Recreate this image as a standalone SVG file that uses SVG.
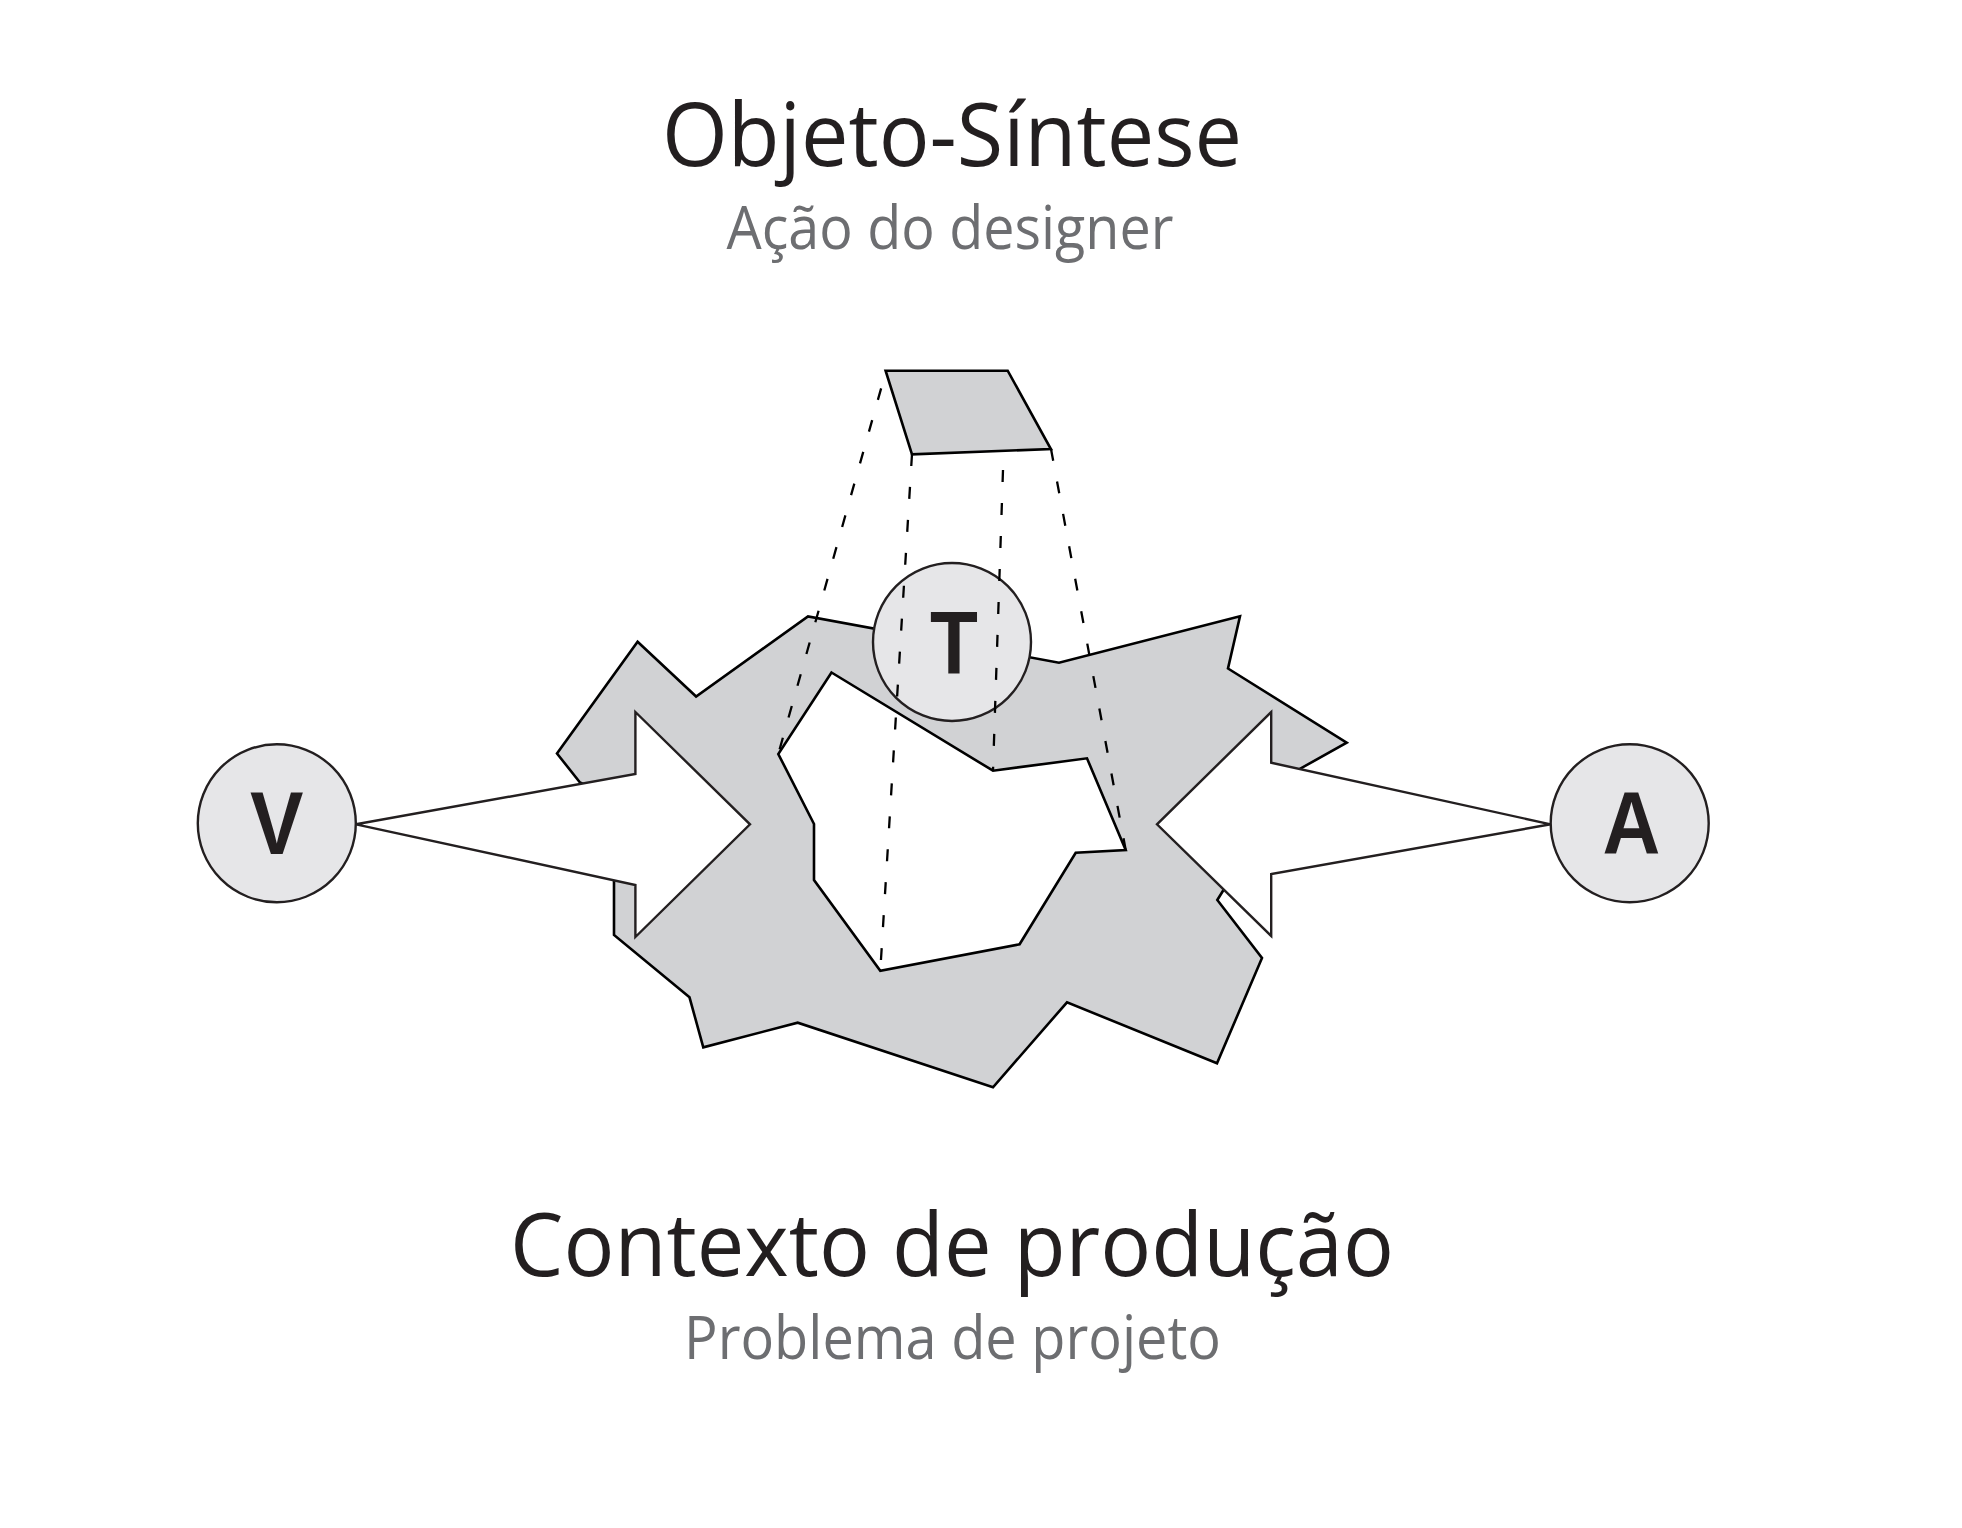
<svg xmlns="http://www.w3.org/2000/svg" width="1962" height="1528" viewBox="0 0 1962 1528">
<style>
.bg{fill:#ffffff}
.shape{fill:#d1d2d4;stroke:#000000;stroke-width:2.6;stroke-linejoin:miter}
.hole{fill:#ffffff;stroke:#000000;stroke-width:2.6;stroke-linejoin:miter}
.arrow{fill:#ffffff;stroke:#231f20;stroke-width:2.4;stroke-linejoin:miter}
.node{fill:#e6e6e8;stroke:#231f20;stroke-width:2.4}
.dash{fill:none;stroke:#000000;stroke-width:2.3;stroke-dasharray:12 21}
.letter{font-family:"Liberation Sans",Arial,sans-serif;font-weight:bold;font-size:89px;fill:#231f20;text-anchor:middle}
.title{font-family:"Open Sans","Noto Sans",sans-serif;font-size:88px;fill:#231f20;text-anchor:middle}
.sub{font-family:"Open Sans","Noto Sans",sans-serif;font-size:61px;fill:#6d6e71;text-anchor:middle}
</style>
<rect class="bg" x="0" y="0" width="1962" height="1528"/>
<g id="context">
<polygon class="shape" points="637.6,641.7 696.1,696.5 808,616.5 1059,662.7 1240,616.3 1228,668.5 1346.7,742.7 1300.2,768.7 1223.5,890 1217.3,900 1262,958 1217,1063.3 1067,1002.3 993,1087.3 797.7,1022.7 703.3,1047.3 689.5,997.3 614,935 614,800 580,782.5 557,753.5"/>
<polygon class="hole" points="831.5,672.5 993,770.7 1087,758.3 1125.7,850 1075.7,852.7 1019.6,944.3 880.3,970.7 814,880 814,824 778.3,754"/>
</g>
<g id="connectors">
<polygon id="arrow-V" class="arrow" points="356,824.3 635.4,774 635.4,712 750,824.3 635.4,937 635.4,885"/>
<polygon id="arrow-A" class="arrow" points="1550.7,824.3 1271.2,762.7 1271.2,712 1157,824.3 1271.2,936 1271.2,874"/>
</g>
<g id="node-V">
<circle class="node" cx="276.8" cy="823.3" r="79"/>
<text class="letter" transform="translate(276.8,854) scale(0.9,1)" x="0" y="0">V</text>
</g>
<g id="node-A">
<circle class="node" cx="1629.7" cy="823.3" r="79"/>
<text class="letter" transform="translate(1631.3,854) scale(0.9,1)" x="0" y="0">A</text>
</g>
<g id="node-T">
<circle class="node" cx="952" cy="642" r="79"/>
<text class="letter" transform="translate(954,672.5) scale(0.88,1)" x="0" y="0">T</text>
</g>
<g id="projection">
<line class="dash" x1="886" y1="371" x2="778.3" y2="754" stroke-dashoffset="-18"/>
<line class="dash" x1="912" y1="454" x2="880.3" y2="970.7"/>
<line class="dash" x1="1003" y1="470" x2="993" y2="770.7"/>
<line class="dash" x1="1051" y1="449" x2="1125.7" y2="850"/>
</g>
<g id="object">
<polygon class="shape" points="885.6,370.7 1007.7,370.7 1050.9,449 912,454.3"/>
</g>
<g id="labels">
<text class="title" x="952" y="166" textLength="580" lengthAdjust="spacingAndGlyphs">Objeto-Síntese</text>
<text class="sub" x="950" y="249" textLength="447" lengthAdjust="spacingAndGlyphs">Ação do designer</text>
<text class="title" x="952" y="1276" textLength="884" lengthAdjust="spacingAndGlyphs">Contexto de produção</text>
<text class="sub" x="952.5" y="1359" textLength="537" lengthAdjust="spacingAndGlyphs">Problema de projeto</text>
</g>
</svg>
